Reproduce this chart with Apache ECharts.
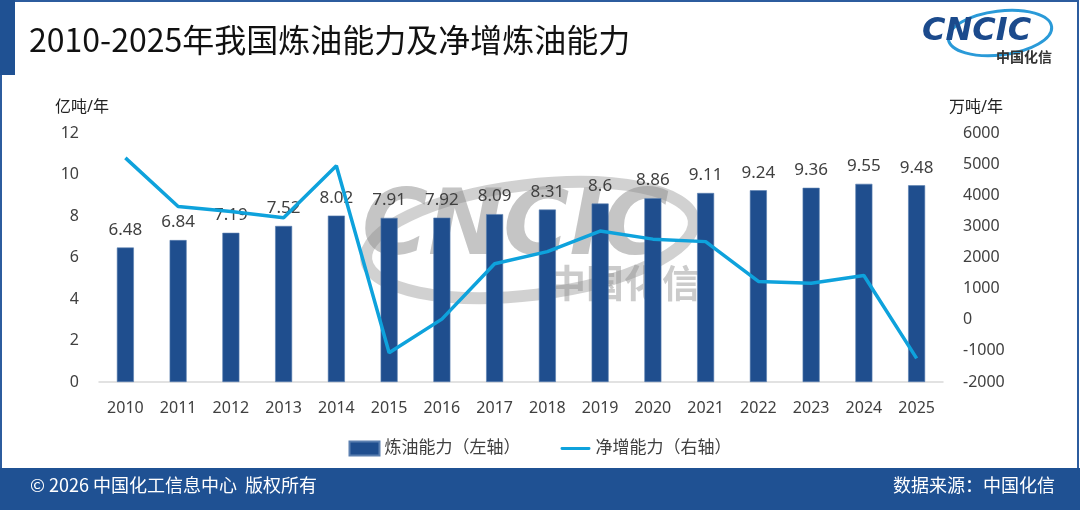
<!DOCTYPE html>
<html>
<head>
<meta charset="utf-8">
<script src="https://cdn.jsdelivr.net/npm/echarts@6/dist/echarts.min.js"></script>
<style>
  html, body { margin: 0; padding: 0; background: #fff; }
  #chart { width: 1080px; height: 510px; }
</style>
</head>
<body>
<div id="chart"></div>
<script>
var years = ['2010', '2011', '2012', '2013', '2014', '2015', '2016', '2017',
  '2018', '2019', '2020', '2021', '2022', '2023', '2024', '2025'];
// 炼油能力 亿吨/年
var capacity = [6.48, 6.84, 7.19, 7.52, 8.02, 7.91, 7.92, 8.09, 8.31, 8.6, 8.86, 9.11, 9.24, 9.36, 9.55, 9.48];
// 净增能力 万吨/年
var netIncrease = [5200, 3640, 3480, 3280, 4950, -1060, 20, 1800, 2190, 2850, 2590, 2510, 1230, 1170, 1420, -1240];
var leftTicks = [0, 12, 2];
var rightTicks = [-2000, 6000, 1000];

var FONT = '"Noto Sans", "Noto Sans CJK SC", sans-serif';
var chart = echarts.init(document.getElementById('chart'));

// line legend icon: thin strip inside a 30x14 box
var lineIcon = 'path://M0,0L0.01,0L0,0.01Z M0,14L0.01,14L0,13.99Z M1,5.5L29,5.5A1.5,1.5 0 0 1 29,8.5L1,8.5A1.5,1.5 0 0 1 1,5.5Z';

chart.setOption({
  backgroundColor: '#fff',
  textStyle: { fontFamily: FONT },
  grid: { left: 99, right: 137, top: 133, bottom: 128 },
  legend: {
    bottom: 48,
    left: 'center',
    itemGap: 40,
    itemWidth: 30,
    itemHeight: 14,
    textStyle: { color: '#404040', fontSize: 17, fontFamily: FONT },
    data: [
      { name: '炼油能力（左轴）', icon: 'rect' },
      { name: '净增能力（右轴）', icon: lineIcon }
    ]
  },
  xAxis: {
    type: 'category',
    data: years,
    axisLine: { lineStyle: { color: '#d9d9d9', width: 1.5 } },
    axisTick: { show: false },
    axisLabel: { color: '#404040', fontSize: 16, margin: 18 }
  },
  yAxis: [{
    type: 'value',
    name: '亿吨/年',
    nameGap: 18,
    nameTextStyle: { color: '#222', fontSize: 16, align: 'center', padding: [0, 34, 0, 0] },
    min: leftTicks[0], max: leftTicks[1], interval: leftTicks[2],
    splitLine: { show: false },
    axisLine: { show: false },
    axisTick: { show: false },
    axisLabel: { color: '#404040', fontSize: 16, margin: 20 }
  }, {
    type: 'value',
    name: '万吨/年',
    nameGap: 18,
    nameTextStyle: { color: '#222', fontSize: 16, align: 'center', padding: [0, 0, 0, 66] },
    min: rightTicks[0], max: rightTicks[1], interval: rightTicks[2],
    splitLine: { show: false },
    axisLine: { show: false },
    axisTick: { show: false },
    axisLabel: { color: '#404040', fontSize: 16, margin: 20, formatter: function (v) { return String(v); } }
  }],
  series: [{
    name: '炼油能力（左轴）',
    type: 'bar',
    yAxisIndex: 0,
    barWidth: 17,
    itemStyle: { color: '#1f4e8e', borderColor: '#5a7fb0', borderWidth: 0.6 },
    label: { show: true, position: 'top', distance: 9, color: '#404040', fontSize: 17 },
    data: capacity
  }, {
    name: '净增能力（右轴）',
    type: 'line',
    yAxisIndex: 1,
    symbol: 'none',
    lineStyle: { color: '#0ea2dc', width: 3.5 },
    itemStyle: { color: '#0ea2dc' },
    data: netIncrease,
    z: 3
  }],
  graphic: [
    // outer frame
    { type: 'rect', shape: { x: 1, y: 1, width: 1077, height: 507 }, style: { fill: 'none', stroke: '#2c5c9e', lineWidth: 2 }, z: 100 },
    // title side bar
    { type: 'rect', shape: { x: 0, y: 0, width: 15, height: 75 }, style: { fill: '#1f5193' }, z: 100 },
    { type: 'text', left: 29, top: 24, style: { text: '2010-2025年我国炼油能力及净增炼油能力', fill: '#111', font: '32px "Noto Sans CJK SC", sans-serif' }, z: 100 },
    // footer
    { type: 'rect', shape: { x: 0, y: 468, width: 1080, height: 42 }, style: { fill: '#1f5193' }, z: 100 },
    { type: 'text', left: 30, top: 476, style: { text: '© 2026 中国化工信息中心  版权所有', fill: '#fff', font: '18px "Noto Sans CJK SC", sans-serif' }, z: 101 },
    { type: 'text', right: 25, top: 476, style: { text: '数据来源：中国化信', fill: '#fff', font: '18px "Noto Sans CJK SC", sans-serif' }, z: 101 },
    // logo top right
    { type: 'ellipse', shape: { cx: 1000, cy: 33, rx: 52, ry: 22 }, rotation: 0.12, originX: 1000, originY: 33, style: { fill: 'none', stroke: '#2a9ad8', lineWidth: 3 }, z: 100 },
    { type: 'text', left: 922, top: 16, style: { text: 'CNCIC', fill: '#1b4a8c', font: 'italic bold 32px "DejaVu Sans", sans-serif' }, z: 101 },
    { type: 'text', left: 996, top: 50, style: { text: '中国化信', fill: '#333', font: 'bold 14px "Noto Sans CJK SC", sans-serif' }, z: 101 },
    // watermark
    {
      type: 'group', z: 50,
      children: [
        { type: 'ellipse', shape: { cx: 530, cy: 240, rx: 165, ry: 55 }, rotation: 0.12, originX: 530, originY: 240, style: { fill: 'none', stroke: 'rgba(140,140,140,0.4)', lineWidth: 12 } },
        { type: 'text', left: 362, top: 186, style: { text: 'CNCIC', fill: 'rgba(140,140,140,0.5)', font: 'italic bold 90px "DejaVu Sans", sans-serif' } },
        { type: 'text', left: 548, top: 264, style: { text: '中国化信', fill: 'rgba(140,140,140,0.45)', font: 'bold 38px "Noto Sans CJK SC", sans-serif' } }
      ]
    }
  ]
});
</script>
</body>
</html>
